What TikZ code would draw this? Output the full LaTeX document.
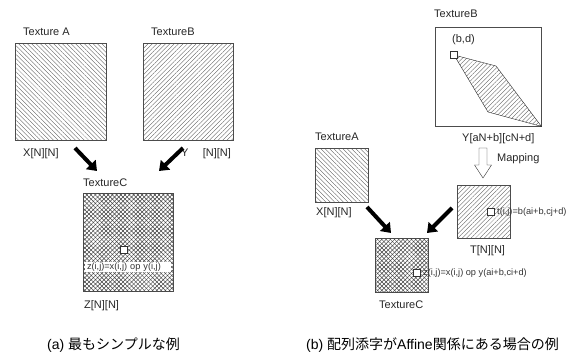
\documentclass[tikz,border=0pt]{standalone}
\usepackage{fontspec}
\setmainfont{Liberation Sans}
\newfontfamily\jfont{Noto Sans CJK JP}
\usetikzlibrary{arrows.meta,patterns.meta}

% styles for the texture boxes and labels
\tikzset{%
    texbox/.style={draw=black!70,thin,inner sep=0pt,anchor=north west},
    hatchNE/.style={pattern={Lines[angle=45,distance=3.1pt,line width=0.35pt]},pattern color=black!65},
    hatchNW/.style={pattern={Lines[angle=-45,distance=3.1pt,line width=0.35pt]},pattern color=black!65},
    hatchX/.style={pattern={Lines[angle=45,distance=3pt,line width=0.5pt]},pattern color=black!75,
        postaction={pattern={Lines[angle=-45,distance=3pt,line width=0.5pt]},pattern color=black!75}},
    lbl/.style={font=\fontsize{11}{13}\selectfont,anchor=west,inner sep=0pt,text=black!85},
    eqn/.style={font=\fontsize{9.2}{11}\selectfont,inner sep=1pt,text=black!80},
    cell/.style={draw=black!80,fill=white,minimum size=7pt,inner sep=0pt},
    bigarrow/.style={-{Triangle[length=9pt,width=13pt]},line width=4pt},
    capt/.style={font=\fontsize{14}{16}\selectfont,anchor=west,inner sep=0pt},
}

\begin{document}
\begin{tikzpicture}[x=1pt,y=-1pt]

\def\bigw{91}
\def\bigh{97}
\def\smw{53}
\def\smh{54}

\useasboundingbox (0,0) rectangle (578,354);

% ---------- (a) ----------
\node[lbl] (labA) at (23,32) {Texture A};
\node[texbox,hatchNW,minimum width=\bigw pt,minimum height=\bigh pt] (texA) at (15,43) {};
\node[lbl] (labB) at (151,32) {TextureB};
\node[texbox,hatchNE,minimum width=90pt,minimum height=\bigh pt] (texB) at (143,43) {};

\node[lbl] (arrX) at (23,154) {X[N][N]};
\node[lbl] (arrY) at (181,154) {Y\hspace{1.3em}[N][N]};

\node[lbl] (labC) at (83,183) {TextureC};
\node[texbox,hatchX,minimum width=90pt,minimum height=98pt] (texC) at (83,193) {};
\node[cell] (cellC) at (124,250) {};
\node[eqn,fill=white,minimum width=86pt,text width=82pt] (eqC) at (128,267) {z(i,j)=x(i,j) op y(i,j)};
\node[lbl] (arrZ) at (84,306) {Z[N][N]};

\coordinate (a1s) at (75,148);
\coordinate (a1e) at (97,171);
\coordinate (a2s) at (183,148);
\coordinate (a2e) at (159,171);
\draw [bigarrow] (a1s) -- (a1e);
\draw [bigarrow] (a2s) -- (a2e);

\node[capt] (captA) at (47,345) {(a) {\jfont 最もシンプルな例}};

% ---------- (b) ----------
\node[lbl] (labB2) at (434,14) {TextureB};
\node[texbox,minimum width=106pt,minimum height=99pt] (texB2) at (435,27) {};
\node[lbl] (bd) at (452,40) {(b,d)};
\draw [black!85,hatchNE] (454,55) -- (496,66) -- (texB2.south east) -- (488,112) -- cycle;
\node[cell] (cellB) at (454,55) {};
\node[lbl] (arrY2) at (462,139) {Y[aN+b][cN+d]};

% mapping arrow
\coordinate (mapTop) at (483,148);
\draw [black!80,fill=white] (mapTop) ++(-4,0) -- ++(0,17) -- ++(-4.5,0) -- ++(8.5,13)
    -- ++(8.5,-13) -- ++(-4.5,0) -- ++(0,-17) -- cycle;
\node[lbl] (map) at (497,159) {Mapping};

\node[lbl] (labA2) at (315,137) {TextureA};
\node[texbox,hatchNW,minimum width=\smw pt,minimum height=\smh pt] (texA2) at (315,148) {};
\node[lbl] (arrX2) at (316,213) {X[N][N]};

\node[texbox,hatchNE,minimum width=\smw pt,minimum height=53pt] (texT) at (457,185) {};
\node[cell] (cellT) at (491,212) {};
\node[eqn,anchor=west] (eqT) at (496,212) {t(i,j)=b(ai+b,cj+d)};
\node[lbl] (arrT) at (470,251) {T[N][N]};

\node[texbox,hatchX,minimum width=\smw pt,minimum height=\smh pt] (texC2) at (375,238) {};
\node[cell] (cellC2) at (417,273) {};
\node[eqn,anchor=west] (eqC2) at (422,273) {z(i,j)=x(i,j) op y(ai+b,ci+d)};
\node[lbl] (labC2) at (379,305) {TextureC};

\coordinate (b1s) at (367,207);
\coordinate (b1e) at (391,233);
\coordinate (b2s) at (452,208);
\coordinate (b2e) at (427,233);
\draw [bigarrow] (b1s) -- (b1e);
\draw [bigarrow] (b2s) -- (b2e);

\node[capt] (captB) at (306,345) {(b) {\jfont 配列添字が}Affine{\jfont 関係にある場合の例}};

\end{tikzpicture}
\end{document}
